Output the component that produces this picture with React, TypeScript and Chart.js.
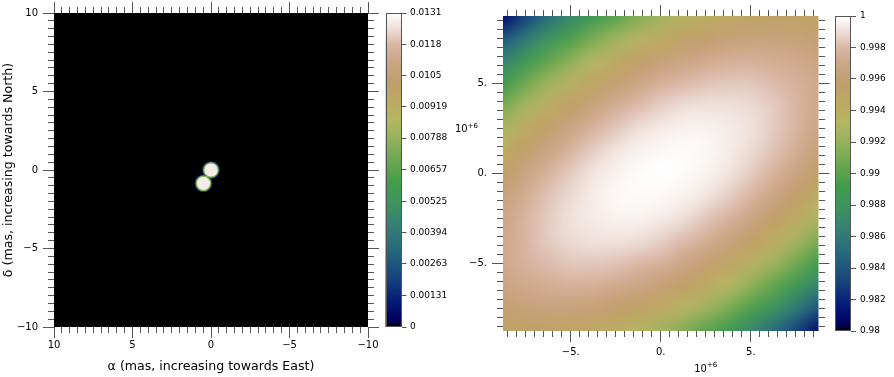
import React, { useEffect, useRef } from "react";
import { Chart, registerables } from "chart.js";

Chart.register(...registerables);

// ---------------- data: left panel (image, mas) ----------------
const imageAxisLimit = 10;
const imageMinorStep = 0.5;
const imageMajorStep = 5;
const componentX = [0.0, 0.48];
const componentY = [0.0, -0.85];
const componentRadius = [0.46, 0.46];
const componentIntensity = [0.0127, 0.0127];
const imageColorMin = 0;
const imageColorMax = 0.0131;
const imageColorTicks = [0, 0.00131, 0.00263, 0.00394, 0.00525, 0.00657, 0.00788, 0.00919, 0.0105, 0.0118, 0.0131];
const imageColorLabels = ["0", "0.00131", "0.00263", "0.00394", "0.00525", "0.00657", "0.00788", "0.00919", "0.0105", "0.0118", "0.0131"];
const imageXTitle = "α (mas, increasing towards East)";
const imageYTitle = "δ (mas, increasing towards North)";

// ---------------- data: right panel (visibility, units of 10^6) ----------------
const visAxisLimit = 8.76;
const visMinorStep = 0.5;
const visMajorStep = 5;
const visMultiplierAt = 2.5;
const visU = [-8.76, -7.509, -6.257, -5.006, -3.754, -2.503, -1.251, 0, 1.251, 2.503, 3.754, 5.006, 6.257, 7.509, 8.76];
const visV = [8.76, 7.509, 6.257, 5.006, 3.754, 2.503, 1.251, 0, -1.251, -2.503, -3.754, -5.006, -6.257, -7.509, -8.76];
const visRows = [
  [0.9810, 0.9832, 0.9852, 0.9870, 0.9887, 0.9901, 0.9914, 0.9925, 0.9934, 0.9941, 0.9947, 0.9950, 0.9952, 0.9952, 0.9950],
  [0.9840, 0.9860, 0.9879, 0.9896, 0.9911, 0.9924, 0.9935, 0.9945, 0.9953, 0.9958, 0.9962, 0.9964, 0.9965, 0.9963, 0.9960],
  [0.9867, 0.9886, 0.9903, 0.9918, 0.9932, 0.9944, 0.9954, 0.9962, 0.9968, 0.9972, 0.9975, 0.9976, 0.9974, 0.9972, 0.9967],
  [0.9891, 0.9908, 0.9924, 0.9938, 0.9950, 0.9960, 0.9969, 0.9976, 0.9980, 0.9983, 0.9984, 0.9984, 0.9981, 0.9977, 0.9971],
  [0.9911, 0.9927, 0.9942, 0.9954, 0.9965, 0.9974, 0.9981, 0.9986, 0.9990, 0.9991, 0.9991, 0.9989, 0.9985, 0.9979, 0.9971],
  [0.9929, 0.9944, 0.9957, 0.9968, 0.9977, 0.9984, 0.9990, 0.9994, 0.9996, 0.9996, 0.9994, 0.9991, 0.9985, 0.9978, 0.9969],
  [0.9943, 0.9957, 0.9968, 0.9978, 0.9986, 0.9992, 0.9996, 0.9998, 0.9999, 0.9998, 0.9994, 0.9989, 0.9983, 0.9974, 0.9963],
  [0.9955, 0.9967, 0.9977, 0.9985, 0.9992, 0.9996, 0.9999, 1.0000, 0.9999, 0.9996, 0.9992, 0.9985, 0.9977, 0.9967, 0.9955],
  [0.9963, 0.9974, 0.9983, 0.9989, 0.9994, 0.9998, 0.9999, 0.9998, 0.9996, 0.9992, 0.9986, 0.9978, 0.9968, 0.9957, 0.9943],
  [0.9969, 0.9978, 0.9985, 0.9991, 0.9994, 0.9996, 0.9996, 0.9994, 0.9990, 0.9984, 0.9977, 0.9968, 0.9957, 0.9944, 0.9929],
  [0.9971, 0.9979, 0.9985, 0.9989, 0.9991, 0.9991, 0.9990, 0.9986, 0.9981, 0.9974, 0.9965, 0.9954, 0.9942, 0.9927, 0.9911],
  [0.9971, 0.9977, 0.9981, 0.9984, 0.9984, 0.9983, 0.9980, 0.9976, 0.9969, 0.9960, 0.9950, 0.9938, 0.9924, 0.9908, 0.9891],
  [0.9967, 0.9972, 0.9974, 0.9976, 0.9975, 0.9972, 0.9968, 0.9962, 0.9954, 0.9944, 0.9932, 0.9918, 0.9903, 0.9886, 0.9867],
  [0.9960, 0.9963, 0.9965, 0.9964, 0.9962, 0.9958, 0.9953, 0.9945, 0.9935, 0.9924, 0.9911, 0.9896, 0.9879, 0.9860, 0.9840],
  [0.9950, 0.9952, 0.9952, 0.9950, 0.9947, 0.9941, 0.9934, 0.9925, 0.9914, 0.9901, 0.9887, 0.9870, 0.9852, 0.9832, 0.9810],
];
const visColorMin = 0.98;
const visColorMax = 1;
const visColorTicks = [0.98, 0.982, 0.984, 0.986, 0.988, 0.99, 0.992, 0.994, 0.996, 0.998, 1];
const visColorLabels = ["0.98", "0.982", "0.984", "0.986", "0.988", "0.99", "0.992", "0.994", "0.996", "0.998", "1"];

// ---------------- colour map ----------------
const cmapStops = [0, 0.02, 0.08, 0.15, 0.25, 0.33, 0.4, 0.46, 0.52, 0.6, 0.66, 0.72, 0.78, 0.85, 0.9, 0.95, 1];
const cmapColors = [
  [0, 0, 0], [0, 0, 90], [5, 25, 120], [20, 65, 125], [40, 105, 125], [55, 130, 115],
  [62, 148, 92], [66, 156, 74], [100, 165, 80], [150, 178, 92], [180, 182, 98],
  [188, 170, 98], [192, 158, 106], [205, 166, 135], [218, 183, 166], [238, 222, 216], [255, 255, 255],
];

function cmap(t: number): number[] {
  const u = Math.max(0, Math.min(1, t));
  for (let k = 1; k < cmapStops.length; k++) {
    if (u <= cmapStops[k]) {
      const f = (u - cmapStops[k - 1]) / (cmapStops[k] - cmapStops[k - 1]);
      const a = cmapColors[k - 1];
      const b = cmapColors[k];
      return [a[0] + (b[0] - a[0]) * f, a[1] + (b[1] - a[1]) * f, a[2] + (b[2] - a[2]) * f];
    }
  }
  return cmapColors[cmapColors.length - 1];
}
function cmapCss(t: number): string {
  const c = cmap(t);
  return `rgb(${Math.round(c[0])},${Math.round(c[1])},${Math.round(c[2])})`;
}

// ---------------- styling ----------------
const FONT = "'DejaVu Sans', Verdana, sans-serif";
const TICK_COLOR = "#555";
const MAJOR_LEN = 11;
const MINOR_LEN = 6;
const TICK_FONT = 10;
const CBAR_FONT = 9;
const TITLE_FONT = 12.6;
const CBAR_WIDTH = 16;

function buildTicks(limit: number, step: number): number[] {
  const out: number[] = [];
  const start = Math.ceil(-limit / step - 1e-9);
  const end = Math.floor(limit / step + 1e-9);
  for (let k = start; k <= end; k++) out.push(+(k * step).toFixed(6));
  return out;
}
const minus = (n: number) => (n < 0 ? "\u2212" + Math.abs(n) : String(n));

type Side = "left" | "right" | "top" | "bottom";
function frameScale(side: Side, limit: number, reverse: boolean, ticks: number[], major: number,
  label: ((v: number) => string) | null, size: number, pad: number, title?: any) {
  const horizontal = side === "top" || side === "bottom";
  const outerFirst = side === "left" || side === "top";
  const isMajor = (v: number) => Math.abs(v / major - Math.round(v / major)) < 1e-6;
  return {
    type: "linear",
    axis: horizontal ? "x" : "y",
    position: side,
    min: -limit,
    max: limit,
    reverse,
    weight: 0,
    border: { display: false },
    grid: {
      drawOnChartArea: false,
      drawTicks: true,
      tickLength: MAJOR_LEN,
      tickWidth: 1,
      tickColor: TICK_COLOR,
      tickBorderDash: (c: any) => (c.tick && !isMajor(c.tick.value) ? [MINOR_LEN, 400] : []),
      tickBorderDashOffset: (c: any) =>
        c.tick && !isMajor(c.tick.value) && outerFirst ? -(MAJOR_LEN - MINOR_LEN) : 0,
    },
    ticks: {
      display: !!label,
      autoSkip: false,
      maxRotation: 0,
      minRotation: 0,
      padding: pad,
      color: "#000",
      font: { family: FONT, size: TICK_FONT },
      callback: (v: any) => (label && isMajor(Number(v)) ? label(Number(v)) : ""),
    },
    title: title || { display: false },
    afterBuildTicks: (s: any) => {
      s.ticks = ticks.map((v) => ({ value: v }));
    },
    afterFit: (s: any) => {
      if (horizontal) s.height = size;
      else s.width = size;
    },
  };
}

function colorbarScale(min: number, max: number, ticks: number[], labels: string[], size: number, pad: number) {
  return {
    type: "linear",
    axis: "y",
    position: "right",
    weight: 1,
    min,
    max,
    border: { display: false },
    grid: { drawOnChartArea: false, drawTicks: true, tickLength: 5, tickWidth: 1, tickColor: TICK_COLOR },
    ticks: {
      autoSkip: false,
      padding: pad,
      color: "#000",
      font: { family: FONT, size: CBAR_FONT },
      callback: (_v: any, i: number) => labels[i],
    },
    afterBuildTicks: (s: any) => {
      s.ticks = ticks.map((v) => ({ value: v }));
    },
    afterFit: (s: any) => {
      s.width = size;
    },
  };
}

function colorbarPlugin(min: number, max: number) {
  return {
    id: "colorbar",
    afterDraw(chart: any) {
      const s = chart.scales.cbar;
      const ctx = chart.ctx;
      const x1 = s.left;
      const x0 = x1 - CBAR_WIDTH;
      const yTop = s.getPixelForValue(max);
      const yBot = s.getPixelForValue(min);
      const g = ctx.createLinearGradient(0, yBot, 0, yTop);
      for (let k = 0; k < cmapStops.length; k++) g.addColorStop(cmapStops[k], cmapCss(cmapStops[k]));
      ctx.save();
      ctx.fillStyle = g;
      ctx.fillRect(x0, yTop, CBAR_WIDTH, yBot - yTop);
      ctx.strokeStyle = "#555";
      ctx.lineWidth = 1;
      ctx.strokeRect(Math.round(x0) + 0.5, Math.round(yTop) + 0.5, Math.round(CBAR_WIDTH) - 1, Math.round(yBot - yTop) - 1);
      ctx.restore();
    },
  };
}

const imageBackgroundPlugin = {
  id: "imageBackground",
  beforeDatasetsDraw(chart: any) {
    const { ctx, chartArea } = chart;
    ctx.save();
    ctx.fillStyle = cmapCss((0 - imageColorMin) / (imageColorMax - imageColorMin));
    ctx.fillRect(chartArea.left, chartArea.top, chartArea.right - chartArea.left, chartArea.bottom - chartArea.top);
    ctx.restore();
  },
};

const visHeatmapPlugin = {
  id: "visHeatmap",
  beforeDatasetsDraw(chart: any) {
    const { ctx, chartArea, scales } = chart;
    const xs = scales.x;
    const ys = scales.y;
    const pts = chart.data.datasets[0].data as any[];
    const nx = visU.length;
    const ny = visV.length;
    const off = document.createElement("canvas");
    off.width = nx;
    off.height = ny;
    const octx = off.getContext("2d")!;
    const img = octx.createImageData(nx, ny);
    pts.forEach((p: any) => {
      const c = cmap((p.v - visColorMin) / (visColorMax - visColorMin));
      const o = (p.row * nx + p.col) * 4;
      img.data[o] = Math.round(c[0]);
      img.data[o + 1] = Math.round(c[1]);
      img.data[o + 2] = Math.round(c[2]);
      img.data[o + 3] = 255;
    });
    octx.putImageData(img, 0, 0);
    const du = (visU[nx - 1] - visU[0]) / (nx - 1);
    const dv = (visV[0] - visV[ny - 1]) / (ny - 1);
    const x0 = xs.getPixelForValue(visU[0] - du / 2);
    const x1 = xs.getPixelForValue(visU[nx - 1] + du / 2);
    const y0 = ys.getPixelForValue(visV[0] + dv / 2);
    const y1 = ys.getPixelForValue(visV[ny - 1] - dv / 2);
    ctx.save();
    ctx.beginPath();
    ctx.rect(chartArea.left, chartArea.top, chartArea.right - chartArea.left, chartArea.bottom - chartArea.top);
    ctx.clip();
    ctx.imageSmoothingEnabled = true;
    ctx.imageSmoothingQuality = "high";
    ctx.drawImage(off, x0, y0, x1 - x0, y1 - y0);
    ctx.restore();
  },
};

function drawPower(ctx: any, x: number, baseline: number, align: "center" | "right") {
  ctx.save();
  ctx.fillStyle = "#000";
  ctx.textBaseline = "alphabetic";
  ctx.textAlign = "left";
  ctx.font = `10px ${FONT}`;
  const w1 = ctx.measureText("10").width;
  ctx.font = `7px ${FONT}`;
  const w2 = ctx.measureText("+6").width;
  const w = w1 + w2;
  const sx = align === "center" ? x - w / 2 : x - w;
  ctx.font = `10px ${FONT}`;
  ctx.fillText("10", sx, baseline);
  ctx.font = `7px ${FONT}`;
  ctx.fillText("+6", sx + w1, baseline - 4.5);
  ctx.restore();
}

const visMultiplierPlugin = {
  id: "visMultiplier",
  afterDraw(chart: any) {
    const ctx = chart.ctx;
    const xs = chart.scales.x;
    const ys = chart.scales.y;
    drawPower(ctx, xs.getPixelForValue(visMultiplierAt), xs.top + 40.5, "center");
    drawPower(ctx, ys.right - 25, ys.getPixelForValue(visMultiplierAt) + 3.8, "right");
  },
};

function imageConfig(): any {
  const ticks = buildTicks(imageAxisLimit, imageMinorStep);
  const lab = (v: number) => minus(Math.round(v));
  const blobs = componentX.map((x, i) => ({ x, y: componentY[i] }));
  const radiusPx = (c: any, extra: number) => {
    const s = c.chart.scales.x;
    const r = componentRadius[c.dataIndex] ?? 0;
    return Math.abs(s.getPixelForValue(r) - s.getPixelForValue(0)) + extra;
  };
  return {
    type: "scatter",
    data: {
      datasets: [
        {
          data: blobs,
          pointRadius: (c: any) => radiusPx(c, 0),
          pointBackgroundColor: (c: any) =>
            cmapCss((componentIntensity[c.dataIndex] - imageColorMin) / (imageColorMax - imageColorMin)),
          pointBorderColor: cmapCss(0.58),
          pointBorderWidth: 1.2,
        },
        {
          data: blobs,
          pointRadius: (c: any) => radiusPx(c, 1.6),
          pointBackgroundColor: cmapCss(0.14),
          pointBorderWidth: 0,
        },
      ],
    },
    options: {
      responsive: false,
      animation: false,
      events: [],
      layout: { padding: 0 },
      plugins: { legend: { display: false }, tooltip: { enabled: false }, title: { display: false } },
      scales: {
        x: frameScale("bottom", imageAxisLimit, true, ticks, imageMajorStep, lab, 50, 1, {
          display: true, text: imageXTitle, color: "#000", font: { family: FONT, size: TITLE_FONT }, padding: { top: 0, bottom: 2.4 },
        }),
        xTop: frameScale("top", imageAxisLimit, true, ticks, imageMajorStep, null, 13, 0),
        y: frameScale("left", imageAxisLimit, false, ticks, imageMajorStep, lab, 54, 5, {
          display: true, text: imageYTitle, color: "#000", font: { family: FONT, size: TITLE_FONT }, padding: { top: 1, bottom: 0 },
        }),
        yRight: frameScale("right", imageAxisLimit, false, ticks, imageMajorStep, null, 33.5, 0),
        cbar: colorbarScale(imageColorMin, imageColorMax, imageColorTicks, imageColorLabels, 45.5, 3.5),
      },
    },
    plugins: [imageBackgroundPlugin, colorbarPlugin(imageColorMin, imageColorMax)],
  };
}

function visConfig(): any {
  const ticks = buildTicks(visAxisLimit, visMinorStep);
  const lab = (v: number) => minus(Math.round(v)) + ".";
  const cells: any[] = [];
  visRows.forEach((row, r) => row.forEach((v, c) => cells.push({ x: visU[c], y: visV[r], v, row: r, col: c })));
  return {
    type: "scatter",
    data: { datasets: [{ data: cells, pointRadius: 0, pointHoverRadius: 0 }] },
    options: {
      responsive: false,
      animation: false,
      events: [],
      layout: { padding: 0 },
      plugins: { legend: { display: false }, tooltip: { enabled: false }, title: { display: false } },
      scales: {
        x: frameScale("bottom", visAxisLimit, false, ticks, visMajorStep, lab, 46, 4),
        xTop: frameScale("top", visAxisLimit, false, ticks, visMajorStep, null, 16, 0),
        y: frameScale("left", visAxisLimit, false, ticks, visMajorStep, lab, 56, 5),
        yRight: frameScale("right", visAxisLimit, false, ticks, visMajorStep, null, 32.5, 0),
        cbar: colorbarScale(visColorMin, visColorMax, visColorTicks, visColorLabels, 43, 4),
      },
    },
    plugins: [visHeatmapPlugin, visMultiplierPlugin, colorbarPlugin(visColorMin, visColorMax)],
  };
}

export default function App() {
  const leftRef = useRef<HTMLCanvasElement>(null);
  const rightRef = useRef<HTMLCanvasElement>(null);
  useEffect(() => {
    const c1 = new Chart(leftRef.current as HTMLCanvasElement, imageConfig());
    const c2 = new Chart(rightRef.current as HTMLCanvasElement, visConfig());
    return () => {
      c1.destroy();
      c2.destroy();
    };
  }, []);
  return (
    <div style={{ position: "fixed", left: 0, top: 0, width: 894, height: 377, background: "#fff" }}>
      <canvas ref={leftRef} width={447} height={377} style={{ position: "absolute", left: 0, top: 0 }} />
      <canvas ref={rightRef} width={447} height={377} style={{ position: "absolute", left: 447, top: 0 }} />
    </div>
  );
}
